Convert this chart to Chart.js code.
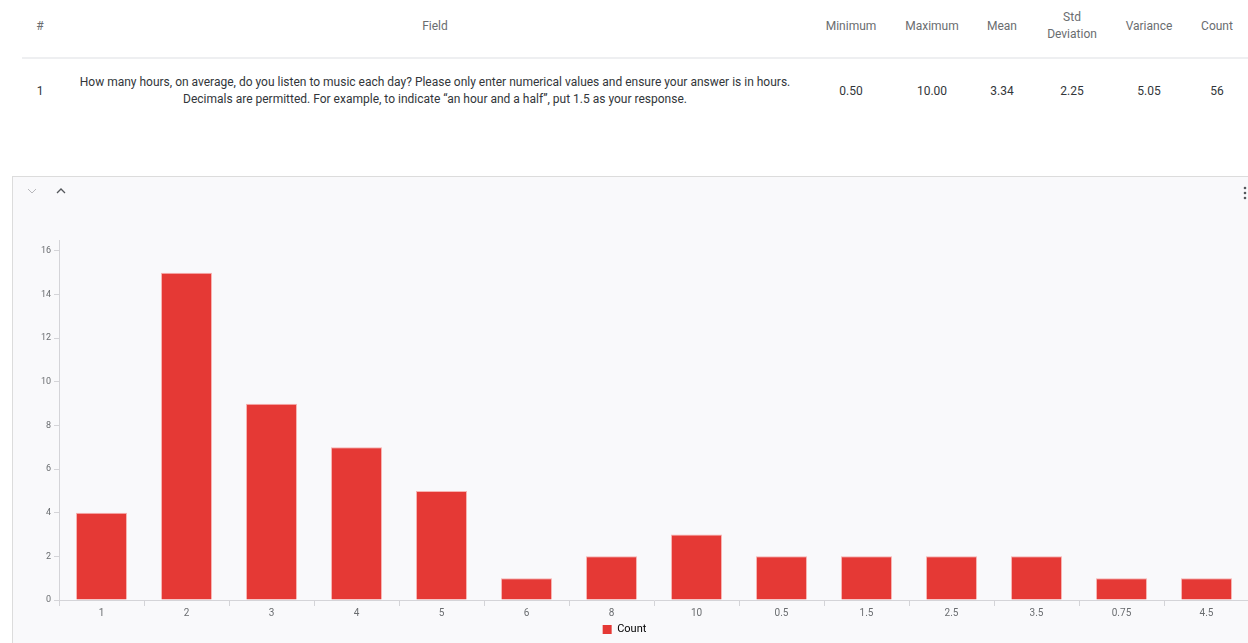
<!DOCTYPE html>
<html>
<head>
<meta charset="utf-8">
<script src="https://cdn.jsdelivr.net/npm/chart.js@4"></script>
<style>
  body { margin: 0; width: 1248px; height: 643px; overflow: hidden; background: #fff;
         font-family: Roboto, "Noto Sans", sans-serif; position: relative; }
  .cell { position: absolute; text-align: center; font-size: 12px; line-height: 17px; }
  .head { color: #6a6d70; }
  .val { color: #32363a; }
  #sep { position: absolute; left: 22px; top: 57px; width: 1230px; height: 2px; background: #eeeff1; }
  #panel { position: absolute; left: 12px; top: 176px; width: 1250px; height: 480px;
           border: 1px solid #dcdcdc; background: #f9f9fb; }
  #chart { position: absolute; left: 0; top: 230px; }
</style>
</head>
<body>
<div class="cell head" style="left:20px;top:18px;width:40px">#</div>
<div class="cell head" style="left:335px;top:18px;width:200px">Field</div>
<div class="cell head" style="left:811px;top:18px;width:80px">Minimum</div>
<div class="cell head" style="left:892px;top:18px;width:80px">Maximum</div>
<div class="cell head" style="left:962px;top:18px;width:80px">Mean</div>
<div class="cell head" style="left:1032px;top:9px;width:80px">Std<br>Deviation</div>
<div class="cell head" style="left:1109px;top:18px;width:80px">Variance</div>
<div class="cell head" style="left:1187px;top:18px;width:60px">Count</div>
<div id="sep"></div>
<div class="cell val" style="left:20px;top:83px;width:40px">1</div>
<div class="cell val" style="left:60px;top:74px;width:750px">How many hours, on average, do you listen to music each day? Please only enter numerical values and ensure your answer is in hours.<br>Decimals are permitted. For example, to indicate “an hour and a half”, put 1.5 as your response.</div>
<div class="cell val" style="left:811px;top:83px;width:80px">0.50</div>
<div class="cell val" style="left:892px;top:83px;width:80px">10.00</div>
<div class="cell val" style="left:962px;top:83px;width:80px">3.34</div>
<div class="cell val" style="left:1032px;top:83px;width:80px">2.25</div>
<div class="cell val" style="left:1109px;top:83px;width:80px">5.05</div>
<div class="cell val" style="left:1187px;top:83px;width:60px">56</div>

<div id="panel">
  <svg width="1250" height="40" style="position:absolute;left:0;top:0">
    <polyline points="15,12 19,16 23,12" fill="none" stroke="#b8b8bc" stroke-width="1"/>
    <polyline points="44,16 48,12 52,16" fill="none" stroke="#55585c" stroke-width="1.3"/>
    <circle cx="1232" cy="11" r="1.3" fill="#55585c"/>
    <circle cx="1232" cy="16" r="1.3" fill="#55585c"/>
    <circle cx="1232" cy="21" r="1.3" fill="#55585c"/>
  </svg>
</div>
<canvas id="chart" width="1260" height="418"></canvas>

<script>
const categories = ['1', '2', '3', '4', '5', '6', '8', '10', '0.5', '1.5', '2.5', '3.5', '0.75', '4.5'];
const counts = [4, 15, 9, 7, 5, 1, 2, 3, 2, 2, 2, 2, 1, 1];
const yTicks = [0, 2, 4, 6, 8, 10, 12, 14, 16];

const ctx = document.getElementById('chart').getContext('2d');
new Chart(ctx, {
  type: 'bar',
  data: {
    labels: categories,
    datasets: [{
      label: 'Count',
      data: counts,
      backgroundColor: '#e53935',
      borderColor: '#f7b4b2',
      borderWidth: 1,
      categoryPercentage: 0.6,
      barPercentage: 1
    }]
  },
  options: {
    responsive: false,
    animation: false,
    layout: { padding: { left: 0, right: 11, top: 10, bottom: 3 } },
    plugins: {
      tooltip: { enabled: false },
      legend: {
        position: 'bottom',
        labels: {
          boxWidth: 9, boxHeight: 9, padding: 4,
          color: '#32363a',
          font: { size: 11, family: 'Roboto' },
          generateLabels: (chart) => [{
            text: 'Count', fillStyle: '#e53935', strokeStyle: '#e53935',
            lineWidth: 0, datasetIndex: 0
          }]
        }
      }
    },
    scales: {
      x: {
        grid: { offset: true, drawOnChartArea: false, tickLength: 6, color: '#d4d4d8' },
        border: { color: '#d4d4d8' },
        ticks: { color: '#6a6d70', font: { size: 10, family: 'Roboto' }, padding: 1 }
      },
      y: {
        min: 0, max: 16.5,
        afterBuildTicks: (scale) => { scale.ticks = yTicks.map(v => ({ value: v })); },
        afterFit: (scale) => { scale.width = 59; },
        grid: { drawOnChartArea: false, tickLength: 5, color: '#d4d4d8' },
        border: { color: '#d4d4d8' },
        ticks: { color: '#6a6d70', font: { size: 9, family: 'Roboto' }, padding: 3 }
      }
    }
  }
});
</script>
</body>
</html>
